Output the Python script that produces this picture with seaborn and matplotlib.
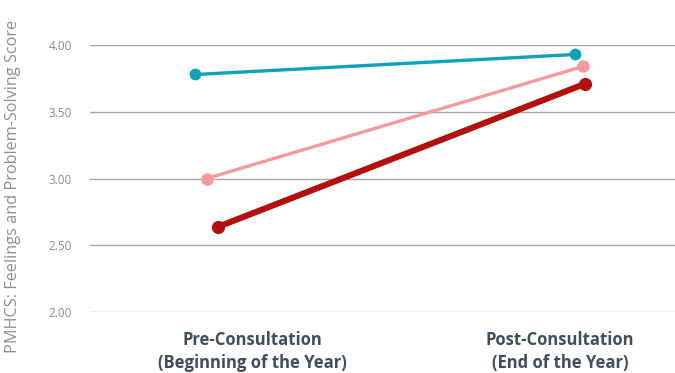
import matplotlib
matplotlib.use("Agg")
import matplotlib.pyplot as plt
import seaborn as sns
import pandas as pd

# Survey means at the two measurement points
periods = ["Pre-Consultation\n(Beginning of the Year)", "Post-Consultation\n(End of the Year)"]
series_names = ["Group A", "Group B", "Group C"]
group_a = [3.78, 3.93]
group_b = [3.00, 3.84]
group_c = [2.64, 3.71]
y_ticks = [2.00, 2.50, 3.00, 3.50, 4.00]

rows = []
for name, vals in zip(series_names, [group_a, group_b, group_c]):
    for i, v in enumerate(vals):
        rows.append({"series": name, "period": i, "score": v})
df = pd.DataFrame(rows)

# Per-series styling: colour, line width, marker size, horizontal dodge
styles = {
    "Group A": dict(color="#0ba3b9", lw=2.4, ms=8.5, dodge=(-0.186, 0.05)),
    "Group B": dict(color="#f59a9b", lw=2.4, ms=9.0, dodge=(-0.150, 0.075)),
    "Group C": dict(color="#b30f0b", lw=4.4, ms=9.5, dodge=(-0.111, 0.082)),
}
df["x"] = [r.period + styles[r.series]["dodge"][r.period] for r in df.itertuples()]

sns.set_theme(style="white")
plt.rcParams["font.family"] = ["Open Sans", "DejaVu Sans"]

fig = plt.figure(figsize=(6.75, 3.73), dpi=100)
ax = fig.add_axes([0.133, 0.1635, 0.867, 0.7155])

for name in series_names:
    st = styles[name]
    sub = df[df.series == name]
    sns.lineplot(data=sub, x="x", y="score", ax=ax, color=st["color"],
                 linewidth=st["lw"], marker="o", markersize=st["ms"],
                 markeredgewidth=0, sort=False, legend=False, clip_on=False,
                 zorder=3)

ax.set_ylim(2.0, 4.0)
ax.set_xlim(-0.53, 1.375)
ax.set_yticks(y_ticks)
ax.set_yticklabels([f"{t:.2f}" for t in y_ticks], color="#8c8c8c", fontsize=8.5)
ax.set_xticks([0, 1])
ax.set_xticklabels(periods, fontsize=12, fontweight="bold", color="#3e4f5c",
                   linespacing=1.3)
ax.tick_params(axis="y", length=0, pad=13)
ax.tick_params(axis="x", length=0, pad=14)
ax.grid(axis="y", color="#a6a6a6", linewidth=1.0)
ax.grid(axis="x", visible=False)
for s in ax.spines.values():
    s.set_visible(False)
ax.set_xlabel("")
ax.set_ylabel("PMHCS: Feelings and Problem-Solving Score", fontsize=11.7,
              color="#8f8f8f")
ax.yaxis.set_label_coords(-0.117, 0.47)

fig.savefig("out.png", dpi=100)
